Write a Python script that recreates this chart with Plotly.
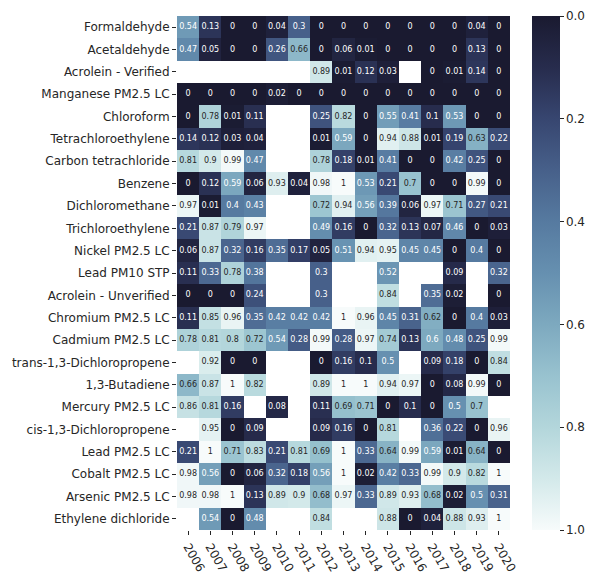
import plotly.graph_objects as go

# Years (columns) and pollutants (rows)
years = [str(y) for y in range(2006, 2021)]
compounds = [
    "Formaldehyde", "Acetaldehyde", "Acrolein - Verified", "Manganese PM2.5 LC",
    "Chloroform", "Tetrachloroethylene", "Carbon tetrachloride", "Benzene",
    "Dichloromethane", "Trichloroethylene", "Nickel PM2.5 LC", "Lead PM10 STP",
    "Acrolein - Unverified", "Chromium PM2.5 LC", "Cadmium PM2.5 LC",
    "trans-1,3-Dichloropropene", "1,3-Butadiene", "Mercury PM2.5 LC",
    "cis-1,3-Dichloropropene", "Lead PM2.5 LC", "Cobalt PM2.5 LC",
    "Arsenic PM2.5 LC", "Ethylene dichloride",
]

N = None
formaldehyde = [0.54, 0.13, 0, 0, 0.04, 0.3, 0, 0, 0, 0, 0, 0, 0, 0.04, 0]
acetaldehyde = [0.47, 0.05, 0, 0, 0.26, 0.66, 0, 0.06, 0.01, 0, 0, 0, 0, 0.13, 0]
acrolein_verified = [N, N, N, N, N, N, 0.89, 0.01, 0.12, 0.03, N, 0, 0.01, 0.14, 0]
manganese_pm25 = [0, 0, 0, 0, 0.02, 0, 0, 0, 0, 0, 0, 0, 0, 0, 0]
chloroform = [0, 0.78, 0.01, 0.11, N, N, 0.25, 0.82, 0, 0.55, 0.41, 0.1, 0.53, 0, 0]
tetrachloroethylene = [0.14, 0.12, 0.03, 0.04, N, N, 0.01, 0.59, 0, 0.94, 0.88, 0.01, 0.19, 0.63, 0.22]
carbon_tetrachloride = [0.81, 0.9, 0.99, 0.47, N, N, 0.78, 0.18, 0.01, 0.41, 0, 0, 0.42, 0.25, 0]
benzene = [0, 0.12, 0.59, 0.06, 0.93, 0.04, 0.98, 1, 0.53, 0.21, 0.7, 0, 0, 0.99, 0]
dichloromethane = [0.97, 0.01, 0.4, 0.43, N, N, 0.72, 0.94, 0.56, 0.39, 0.06, 0.97, 0.71, 0.27, 0.21]
trichloroethylene = [0.21, 0.87, 0.79, 0.97, N, N, 0.49, 0.16, 0, 0.32, 0.13, 0.07, 0.46, 0, 0.03]
nickel_pm25 = [0.06, 0.87, 0.32, 0.16, 0.35, 0.17, 0.05, 0.51, 0.94, 0.95, 0.45, 0.45, 0, 0.4, 0]
lead_pm10 = [0.11, 0.33, 0.78, 0.38, N, N, 0.3, N, N, 0.52, N, N, 0.09, N, 0.32]
acrolein_unverified = [0, 0, 0, 0.24, N, N, 0.3, N, N, 0.84, N, 0.35, 0.02, N, 0]
chromium_pm25 = [0.11, 0.85, 0.96, 0.35, 0.42, 0.42, 0.42, 1, 0.96, 0.45, 0.31, 0.62, 0, 0.4, 0.03]
cadmium_pm25 = [0.78, 0.81, 0.8, 0.72, 0.54, 0.28, 0.99, 0.28, 0.97, 0.74, 0.13, 0.6, 0.48, 0.25, 0.99]
trans_dichloropropene = [N, 0.92, 0, 0, N, N, 0, 0.16, 0.1, 0.5, N, 0.09, 0.18, 0, 0.84]
butadiene = [0.66, 0.87, 1, 0.82, N, N, 0.89, 1, 1, 0.94, 0.97, 0, 0.08, 0.99, 0]
mercury_pm25 = [0.86, 0.81, 0.16, N, 0.08, N, 0.11, 0.69, 0.71, 0, 0.1, 0, 0.5, 0.7, N]
cis_dichloropropene = [N, 0.95, 0, 0.09, N, N, 0.09, 0.16, 0, 0.81, N, 0.36, 0.22, 0, 0.96]
lead_pm25 = [0.21, 1, 0.71, 0.83, 0.21, 0.81, 0.69, 1, 0.33, 0.64, 0.99, 0.59, 0.01, 0.64, 0]
cobalt_pm25 = [0.98, 0.56, 0, 0.06, 0.32, 0.18, 0.56, 1, 0.02, 0.42, 0.33, 0.99, 0.9, 0.82, 1]
arsenic_pm25 = [0.98, 0.98, 1, 0.13, 0.89, 0.9, 0.68, 0.97, 0.33, 0.89, 0.93, 0.68, 0.02, 0.5, 0.31]
ethylene_dichloride = [N, 0.54, 0, 0.48, N, N, 0.84, N, N, 0.88, 0, 0.04, 0.88, 0.93, 1]

rows = [
    formaldehyde, acetaldehyde, acrolein_verified, manganese_pm25, chloroform,
    tetrachloroethylene, carbon_tetrachloride, benzene, dichloromethane,
    trichloroethylene, nickel_pm25, lead_pm10, acrolein_unverified, chromium_pm25,
    cadmium_pm25, trans_dichloropropene, butadiene, mercury_pm25,
    cis_dichloropropene, lead_pm25, cobalt_pm25, arsenic_pm25, ethylene_dichloride,
]

FONT = "DejaVu Sans"
TEXT_DARK = "#262626"

# Colour ramp: value 1 -> near white, value 0 -> dark navy.
# The heatmap is fed with -value so that 0.0 sits at the top of the colour bar.
ramp = [
    (1.0, "#f7fbfb"), (0.9, "#d3e9ea"), (0.8, "#b3d6db"), (0.7, "#98c2cf"),
    (0.6, "#7da9bf"), (0.5, "#6690b0"), (0.4, "#567aa0"), (0.3, "#47608a"),
    (0.2, "#374670"), (0.1, "#272c4d"), (0.0, "#1a1a30"),
]
colorscale = [[1.0 - v, c] for v, c in ramp]

z_neg = [[(-v if v is not None else None) for v in r] for r in rows]

fig = go.Figure()
fig.add_trace(go.Heatmap(
    x=years, y=compounds, z=z_neg,
    zmin=-1, zmax=0, colorscale=colorscale,
    hoverinfo="skip", xgap=0, ygap=0,
    colorbar=dict(
        x=1.066, xanchor="left", xpad=0, ypad=0,
        y=0.5, yanchor="middle", len=1.0, lenmode="fraction",
        thickness=28, outlinewidth=0,
        tickmode="array",
        tickvals=[0, -0.2, -0.4, -0.6, -0.8, -1.0],
        ticktext=["0.0", "0.2", "0.4", "0.6", "0.8", "1.0"],
        ticks="outside", ticklen=4, tickwidth=1, tickcolor=TEXT_DARK,
        tickfont=dict(family=FONT, size=12, color=TEXT_DARK),
    ),
))


def fmt(v):
    return f"{v:.2g}"


# Cell annotations: white on dark cells, dark grey on light cells
groups = {"light": ([], [], []), "dark": ([], [], [])}
for name, r in zip(compounds, rows):
    for yr, v in zip(years, r):
        if v is None:
            continue
        key = "dark" if v >= 0.615 else "light"
        groups[key][0].append(yr)
        groups[key][1].append(name)
        groups[key][2].append(fmt(v))

for key, color in (("light", "white"), ("dark", TEXT_DARK)):
    xs, ys, ts = groups[key]
    fig.add_trace(go.Scatter(
        x=xs, y=ys, text=ts, mode="text",
        textfont=dict(family=FONT, size=8, color=color),
        hoverinfo="skip", showlegend=False,
    ))

fig.update_xaxes(
    type="category", categoryorder="array", categoryarray=years,
    range=[-0.5, len(years) - 0.5], autorange=False,
    showgrid=False, zeroline=False, showline=False,
    ticks="outside", ticklen=4, tickcolor=TEXT_DARK, tickangle=60,
    tickfont=dict(family=FONT, size=12, color=TEXT_DARK),
)
fig.update_yaxes(
    type="category", categoryorder="array", categoryarray=compounds,
    range=[len(compounds) - 0.5, -0.5], autorange=False,
    showgrid=False, zeroline=False, showline=False,
    ticks="outside", ticklen=4, tickcolor=TEXT_DARK,
    tickfont=dict(family=FONT, size=12, color=TEXT_DARK),
)

fig.update_layout(
    width=597, height=586,
    margin=dict(l=173, r=77, t=16, b=38, pad=0),
    paper_bgcolor="white", plot_bgcolor="white",
    showlegend=False,
    font=dict(family=FONT, size=12, color=TEXT_DARK),
)

fig.write_html("out.html")
